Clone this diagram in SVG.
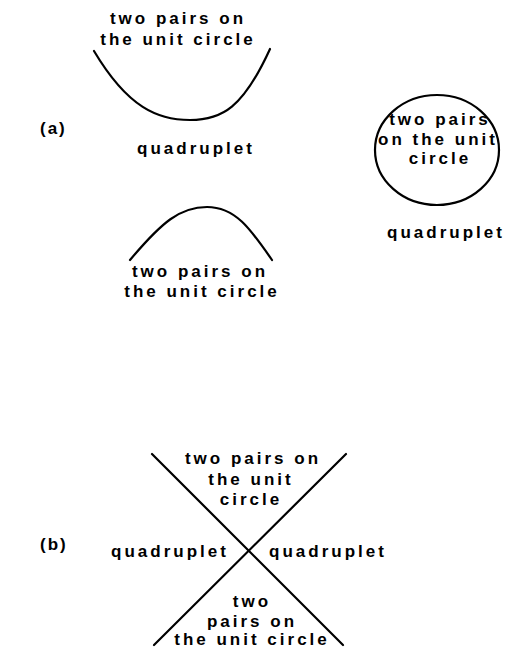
<svg xmlns="http://www.w3.org/2000/svg" width="505" height="648" viewBox="0 0 505 648">
<style>
text{font-family:"Liberation Sans",Arial,sans-serif;font-weight:bold;font-size:17px;letter-spacing:3px;fill:#000;text-anchor:middle}
.lbl{text-anchor:start;letter-spacing:2px}
.ln{fill:none;stroke:#000;stroke-width:2.2;stroke-linecap:round}
</style>
<rect width="505" height="648" fill="#fff"/>
<text class="lbl" x="40" y="134">(a)</text>
<text class="lbl" x="40" y="550">(b)</text>
<g id="connectors">
<path class="ln" d="M94,51 C128,108 158,120 190,120 C222,120 243,108 270,49"/>
<path class="ln" d="M130,260 C162,222 180,207 207,207 C235,207 250,228 272,260"/>
<ellipse class="ln" cx="437" cy="150" rx="62" ry="55"/>
<line class="ln" x1="152" y1="454" x2="343" y2="645"/>
<line class="ln" x1="346" y1="454" x2="154" y2="645"/>
</g>
<g id="n1"><text x="178" y="24">two pairs on</text><text x="178" y="45">the unit circle</text></g>
<g id="n2"><text x="196" y="154">quadruplet</text></g>
<g id="n3"><text x="200" y="277">two pairs on</text><text x="202" y="297">the unit circle</text></g>
<g id="n4"><text x="440" y="125">two pairs</text><text x="438" y="145">on the unit</text><text x="440" y="164">circle</text></g>
<g id="n5"><text x="446" y="238">quadruplet</text></g>
<g id="n6"><text x="253" y="464">two pairs on</text><text x="251" y="485">the unit</text><text x="251" y="505">circle</text></g>
<g id="n7"><text x="170" y="557">quadruplet</text></g>
<g id="n8"><text x="328" y="557">quadruplet</text></g>
<g id="n9"><text x="252" y="607">two</text><text x="252" y="627">pairs on</text><text x="252" y="645">the unit circle</text></g>
</svg>
